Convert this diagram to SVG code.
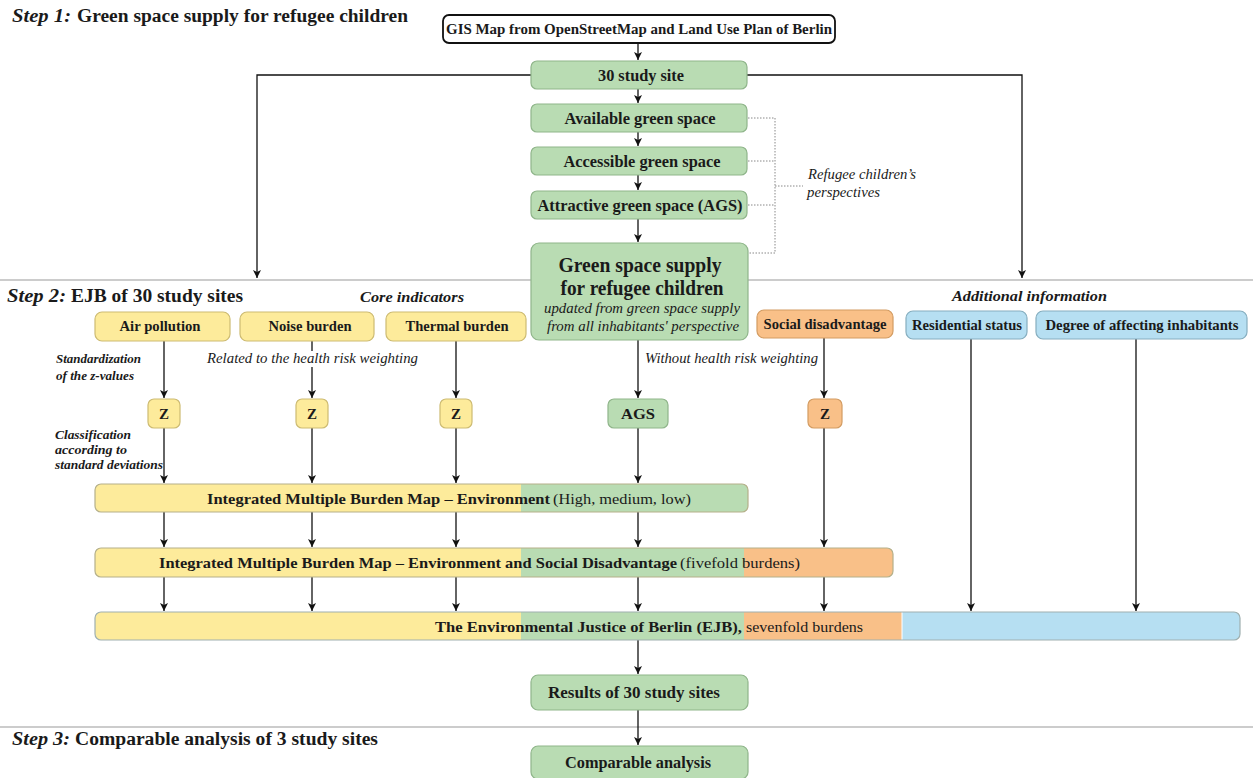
<svg xmlns="http://www.w3.org/2000/svg" width="1253" height="778" viewBox="0 0 1253 778">
<style>
text{font-family:"Liberation Serif","Times New Roman",serif;fill:#1a1a1a}
.b{font-weight:bold}
.i{font-style:italic}
.bi{font-weight:bold;font-style:italic}
.c{text-anchor:middle}
.green{fill:#b9dcb3;stroke:#8fb58a;stroke-width:1.2}
.yel{fill:#fdeb9b;stroke:#cdbb72;stroke-width:1.2}
.ora{fill:#f9c088;stroke:#d39c62;stroke-width:1.2}
.blu{fill:#b6dff2;stroke:#86aebf;stroke-width:1.2}
.conn line,.conn polyline{stroke:#111;stroke-width:1.3;fill:none}
.conn .dot{stroke:#888;stroke-width:1;stroke-dasharray:1.5 1.5;fill:none}
.div{stroke:#999;stroke-width:1.2}
</style>
<defs>
<marker id="ah" viewBox="0 0 10 10" refX="10" refY="5" markerWidth="8" markerHeight="8" markerUnits="userSpaceOnUse" orient="auto">
<path d="M0,0 L10,5 L0,10 L2.5,5 z" fill="#111"/>
</marker>
<clipPath id="cb1"><rect x="95" y="484" width="653" height="28" rx="6"/></clipPath>
<clipPath id="cb2"><rect x="95" y="548" width="798" height="29" rx="6"/></clipPath>
<clipPath id="cb3"><rect x="95" y="612" width="1145" height="28" rx="6"/></clipPath>
</defs>

<!-- dividers -->
<line class="div" x1="0" y1="280" x2="1253" y2="280"/>
<line class="div" x1="0" y1="727" x2="1253" y2="727"/>

<!-- step titles -->
<text x="12" y="22" font-size="18" class="bi" textLength="59" lengthAdjust="spacingAndGlyphs">Step 1:</text>
<text x="77" y="22" font-size="18" class="b" textLength="331" lengthAdjust="spacingAndGlyphs">Green space supply for refugee children</text>
<text x="7" y="302" font-size="18" class="bi" textLength="59" lengthAdjust="spacingAndGlyphs">Step 2:</text>
<text x="71" y="302" font-size="18" class="b" textLength="172" lengthAdjust="spacingAndGlyphs">EJB of 30 study sites</text>
<text x="12" y="745" font-size="18" class="bi" textLength="58" lengthAdjust="spacingAndGlyphs">Step 3:</text>
<text x="75" y="745" font-size="18" class="b" textLength="303" lengthAdjust="spacingAndGlyphs">Comparable analysis of 3 study sites</text>

<text x="360" y="302" font-size="15.5" class="bi" textLength="104" lengthAdjust="spacingAndGlyphs">Core indicators</text>
<text x="952" y="301" font-size="15.5" class="bi" textLength="155" lengthAdjust="spacingAndGlyphs">Additional information</text>

<!-- connectors -->
<g id="connectors" class="conn">
<line x1="638" y1="43" x2="638" y2="60" marker-end="url(#ah)"/>
<polyline points="531,75 257,75 257,278" marker-end="url(#ah)"/>
<polyline points="747,75 1022,75 1022,278" marker-end="url(#ah)"/>
<line x1="638" y1="89" x2="638" y2="103" marker-end="url(#ah)"/>
<line x1="638" y1="132" x2="638" y2="146" marker-end="url(#ah)"/>
<line x1="638" y1="175" x2="638" y2="190" marker-end="url(#ah)"/>
<line x1="638" y1="219" x2="638" y2="242" marker-end="url(#ah)"/>
<line x1="164" y1="341" x2="164" y2="398" marker-end="url(#ah)"/>
<line x1="312" y1="341" x2="312" y2="351"/>
<line x1="312" y1="367" x2="312" y2="398" marker-end="url(#ah)"/>
<line x1="456" y1="341" x2="456" y2="398" marker-end="url(#ah)"/>
<line x1="638" y1="340" x2="638" y2="398" marker-end="url(#ah)"/>
<line x1="824" y1="338" x2="824" y2="398" marker-end="url(#ah)"/>
<line x1="971" y1="339" x2="971" y2="611" marker-end="url(#ah)"/>
<line x1="1136" y1="339" x2="1136" y2="611" marker-end="url(#ah)"/>
<line x1="164" y1="428" x2="164" y2="483" marker-end="url(#ah)"/>
<line x1="312" y1="428" x2="312" y2="483" marker-end="url(#ah)"/>
<line x1="456" y1="428" x2="456" y2="483" marker-end="url(#ah)"/>
<line x1="638" y1="428" x2="638" y2="483" marker-end="url(#ah)"/>
<line x1="824" y1="428" x2="824" y2="547" marker-end="url(#ah)"/>
<line x1="164" y1="512" x2="164" y2="547" marker-end="url(#ah)"/>
<line x1="312" y1="512" x2="312" y2="547" marker-end="url(#ah)"/>
<line x1="456" y1="512" x2="456" y2="547" marker-end="url(#ah)"/>
<line x1="638" y1="512" x2="638" y2="547" marker-end="url(#ah)"/>
<line x1="164" y1="577" x2="164" y2="611" marker-end="url(#ah)"/>
<line x1="312" y1="577" x2="312" y2="611" marker-end="url(#ah)"/>
<line x1="456" y1="577" x2="456" y2="611" marker-end="url(#ah)"/>
<line x1="638" y1="577" x2="638" y2="611" marker-end="url(#ah)"/>
<line x1="824" y1="577" x2="824" y2="611" marker-end="url(#ah)"/>
<line x1="638" y1="640" x2="638" y2="674" marker-end="url(#ah)"/>
<line x1="638" y1="710" x2="638" y2="745" marker-end="url(#ah)"/>
<polyline class="dot" points="748,118 775,118 775,253 749,253"/>
<line class="dot" x1="748" y1="161" x2="775" y2="161"/>
<line class="dot" x1="748" y1="205" x2="775" y2="205"/>
<line class="dot" x1="775" y1="186" x2="803" y2="186"/>
</g>

<text x="808" y="179" font-size="14" class="i" textLength="108" lengthAdjust="spacingAndGlyphs">Refugee children’s</text>
<text x="807" y="197" font-size="14" class="i" textLength="73" lengthAdjust="spacingAndGlyphs">perspectives</text>

<text x="56" y="363" font-size="13" class="bi" textLength="85" lengthAdjust="spacingAndGlyphs">Standardization</text>
<text x="56" y="380" font-size="13" class="bi" textLength="78" lengthAdjust="spacingAndGlyphs">of the z-values</text>
<text x="207" y="363" font-size="14" class="i" textLength="211" lengthAdjust="spacingAndGlyphs">Related to the health risk weighting</text>
<text x="645" y="363" font-size="14" class="i" textLength="173" lengthAdjust="spacingAndGlyphs">Without health risk weighting</text>
<text x="55" y="439" font-size="13" class="bi" textLength="76" lengthAdjust="spacingAndGlyphs">Classification</text>
<text x="55" y="454" font-size="13" class="bi" textLength="72" lengthAdjust="spacingAndGlyphs">according to</text>
<text x="55" y="469" font-size="13" class="bi" textLength="108" lengthAdjust="spacingAndGlyphs">standard deviations</text>

<!-- nodes -->
<g id="gis">
<rect x="443" y="15" width="392" height="28" rx="6" fill="#fff" stroke="#111" stroke-width="1.8"/>
<text x="639" y="34" font-size="15" class="b c" textLength="386" lengthAdjust="spacingAndGlyphs">GIS Map from OpenStreetMap and Land Use Plan of Berlin</text>
</g>
<g id="site30">
<rect class="green" x="531" y="61" width="216" height="28" rx="6"/>
<text x="641" y="81" font-size="16" class="b c" textLength="86" lengthAdjust="spacingAndGlyphs">30 study site</text>
</g>
<g id="available">
<rect class="green" x="531" y="104" width="216" height="28" rx="6"/>
<text x="640" y="124" font-size="16" class="b c" textLength="151" lengthAdjust="spacingAndGlyphs">Available green space</text>
</g>
<g id="accessible">
<rect class="green" x="531" y="147" width="216" height="28" rx="6"/>
<text x="642" y="167" font-size="16" class="b c" textLength="157" lengthAdjust="spacingAndGlyphs">Accessible green space</text>
</g>
<g id="attractive">
<rect class="green" x="531" y="191" width="216" height="28" rx="6"/>
<text x="640" y="211" font-size="16" class="b c" textLength="205" lengthAdjust="spacingAndGlyphs">Attractive green space (AGS)</text>
</g>
<g id="supply">
<rect class="green" x="531" y="243" width="217" height="97" rx="8"/>
<text x="640" y="272" font-size="20" class="b c" textLength="163" lengthAdjust="spacingAndGlyphs">Green space supply</text>
<text x="642" y="295" font-size="20" class="b c" textLength="163" lengthAdjust="spacingAndGlyphs">for refugee children</text>
<text x="642" y="313" font-size="15" class="i c" textLength="196" lengthAdjust="spacingAndGlyphs">updated from green space supply</text>
<text x="643" y="331" font-size="15" class="i c" textLength="192" lengthAdjust="spacingAndGlyphs">from all inhabitants' perspective</text>
</g>

<g id="air">
<rect class="yel" x="95" y="312" width="135" height="29" rx="7"/>
<text x="160" y="331" font-size="15" class="b c" textLength="81" lengthAdjust="spacingAndGlyphs">Air pollution</text>
</g>
<g id="noise">
<rect class="yel" x="240" y="312" width="134" height="29" rx="7"/>
<text x="310" y="331" font-size="15" class="b c" textLength="83" lengthAdjust="spacingAndGlyphs">Noise burden</text>
</g>
<g id="thermal">
<rect class="yel" x="386" y="312" width="140" height="29" rx="7"/>
<text x="457" y="331" font-size="15" class="b c" textLength="103" lengthAdjust="spacingAndGlyphs">Thermal burden</text>
</g>
<g id="social">
<rect class="ora" x="757" y="310" width="136" height="28" rx="7"/>
<text x="825" y="329" font-size="15" class="b c" textLength="123" lengthAdjust="spacingAndGlyphs">Social disadvantage</text>
</g>
<g id="residential">
<rect class="blu" x="906" y="311" width="121" height="28" rx="7"/>
<text x="967" y="330" font-size="15" class="b c" textLength="110" lengthAdjust="spacingAndGlyphs">Residential status</text>
</g>
<g id="degree">
<rect class="blu" x="1036" y="311" width="211" height="28" rx="7"/>
<text x="1142" y="330" font-size="15" class="b c" textLength="193" lengthAdjust="spacingAndGlyphs">Degree of affecting inhabitants</text>
</g>

<g id="z1"><rect class="yel" x="148" y="399" width="32" height="29" rx="6"/><text x="164" y="419" font-size="15" class="b c">Z</text></g>
<g id="z2"><rect class="yel" x="296" y="399" width="32" height="29" rx="6"/><text x="312" y="419" font-size="15" class="b c">Z</text></g>
<g id="z3"><rect class="yel" x="440" y="399" width="32" height="29" rx="6"/><text x="456" y="419" font-size="15" class="b c">Z</text></g>
<g id="ags"><rect class="green" x="608" y="399" width="60" height="29" rx="6"/><text x="638" y="419" font-size="15" class="b c" textLength="34" lengthAdjust="spacingAndGlyphs">AGS</text></g>
<g id="z4"><rect class="ora" x="808" y="399" width="34" height="29" rx="6"/><text x="825" y="419" font-size="15" class="b c">Z</text></g>

<g id="bar1">
<g clip-path="url(#cb1)">
<rect x="95" y="484" width="426" height="28" fill="#fdeb9b"/>
<rect x="521" y="484" width="227" height="28" fill="#b9dcb3"/>
</g>
<rect x="95" y="484" width="653" height="28" rx="6" fill="none" stroke="#b5b08a" stroke-width="1.2"/>
<text x="207" y="504" font-size="15.5" class="b" textLength="343" lengthAdjust="spacingAndGlyphs">Integrated Multiple Burden Map – Environment</text>
<text x="553" y="504" font-size="15.5" textLength="138" lengthAdjust="spacingAndGlyphs">(High, medium, low)</text>
</g>

<g id="bar2">
<g clip-path="url(#cb2)">
<rect x="95" y="548" width="426" height="29" fill="#fdeb9b"/>
<rect x="521" y="548" width="223" height="29" fill="#b9dcb3"/>
<rect x="744" y="548" width="149" height="29" fill="#f9c088"/>
</g>
<rect x="95" y="548" width="798" height="29" rx="6" fill="none" stroke="#b5b08a" stroke-width="1.2"/>
<text x="159" y="568" font-size="15.5" class="b" textLength="518" lengthAdjust="spacingAndGlyphs">Integrated Multiple Burden Map – Environment and Social Disadvantage</text>
<text x="680" y="568" font-size="15.5" textLength="120" lengthAdjust="spacingAndGlyphs">(fivefold burdens)</text>
</g>

<g id="bar3">
<g clip-path="url(#cb3)">
<rect x="95" y="612" width="426" height="28" fill="#fdeb9b"/>
<rect x="521" y="612" width="223" height="28" fill="#b9dcb3"/>
<rect x="744" y="612" width="158" height="28" fill="#f9c088"/>
<rect x="902" y="612" width="338" height="28" fill="#b6dff2"/>
</g>
<line x1="902" y1="612" x2="902" y2="640" stroke="#fff" stroke-width="1"/>
<rect x="95" y="612" width="1145" height="28" rx="6" fill="none" stroke="#9fb0b0" stroke-width="1.2"/>
<text x="435" y="632" font-size="15.5" class="b" textLength="307" lengthAdjust="spacingAndGlyphs">The Environmental Justice of Berlin (EJB),</text>
<text x="746" y="632" font-size="15.5" textLength="117" lengthAdjust="spacingAndGlyphs">sevenfold burdens</text>
</g>

<g id="results">
<rect class="green" x="531" y="675" width="217" height="35" rx="7"/>
<text x="634" y="698" font-size="16.5" class="b c" textLength="172" lengthAdjust="spacingAndGlyphs">Results of 30 study sites</text>
</g>
<g id="comparable">
<rect class="green" x="531" y="746" width="217" height="33" rx="7"/>
<text x="638" y="768" font-size="16.5" class="b c" textLength="146" lengthAdjust="spacingAndGlyphs">Comparable analysis</text>
</g>
</svg>
